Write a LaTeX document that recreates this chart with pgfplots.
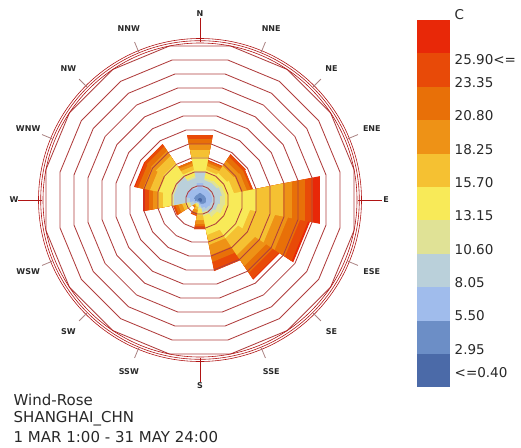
\documentclass[border=0pt]{standalone}
\usepackage{pgfplots}
\pgfplotsset{compat=1.18}
\usepgfplotslibrary{polar}
\usepackage{pgfplotstable}
\usepackage{fontspec}
\setmainfont{DejaVu Sans}

\definecolor{c1}{RGB}{75,106,168}
\definecolor{c2}{RGB}{108,142,198}
\definecolor{c3}{RGB}{160,188,236}
\definecolor{c4}{RGB}{186,208,218}
\definecolor{c5}{RGB}{224,226,150}
\definecolor{c6}{RGB}{248,234,88}
\definecolor{c7}{RGB}{245,193,50}
\definecolor{c8}{RGB}{238,146,22}
\definecolor{c9}{RGB}{232,112,8}
\definecolor{c10}{RGB}{232,74,8}
\definecolor{c11}{RGB}{232,40,8}
\definecolor{ringc}{RGB}{176,62,62}
\definecolor{circc}{RGB}{176,20,20}
\definecolor{minc}{RGB}{170,130,130}
\definecolor{txt}{RGB}{40,40,40}

% cumulative radii of the stacked temperature bins, per direction (two corners each)
\pgfplotstableread{
a        r1 r2 r3 r4 r5 r6 r7 r8 r9 r10 r11
101.25   2  7  17 28 29 43 50 56 61 65  65
78.75    2  7  17 28 29 43 50 56 61 65  65
78.75    2  6  12 20 22 30 34 37 39 40  40
56.25    2  6  12 20 22 30 34 37 39 40  40
56.25    2  6  12 20 23 32 40 46 51 54  54
33.75    2  6  12 20 23 32 40 46 51 54  54
33.75    2  6  12 22 25 34 41 47 51 53  53
11.25    2  6  12 22 25 34 41 47 51 53  53
11.25    2  6  12 20 25 56 83 92 105 113 120
-11.25   2  6  12 20 25 56 83 92 105 113 120
-11.25   2  6  11 18 24 50 75 88 100 108 110
-33.75   2  6  11 18 24 50 75 88 100 108 110
-33.75   2  5  10 16 20 45 65 78 86 93  94
-56.25   2  5  10 16 20 45 65 78 86 93  94
-56.25   2  4  8  12 16 35 45 55 62 71  71
-78.75   2  4  8  12 16 35 45 55 62 71  71
-78.75   1  3  5  7  9  15 20 24 26 29  29
-101.25  1  3  5  7  9  15 20 24 26 29  29
-101.25  1  2  3  4  5  7  10 13 15 16  16
-123.75  1  2  3  4  5  7  10 13 15 16  16
-123.75  1  2  3  4  5  6  7  8  9  9   9
-146.25  1  2  3  4  5  6  7  8  9  9   9
-146.25  1  3  6  10 12 15 18 22 25 27  27
-168.75  1  3  6  10 12 15 18 22 25 27  27
-168.75  2  5  10 26 28 37 42 47 51 55  57
-191.25  2  5  10 26 28 37 42 47 51 55  57
-191.25  2  6  14 26 28 41 50 57 62 65  66
-213.75  2  6  14 26 28 41 50 57 62 65  66
-213.75  2  6  14 27 29 43 52 58 63 66  66
-236.25  2  6  14 27 29 43 52 58 63 66  66
-236.25  2  6  12 22 24 30 34 37 39 39  39
-258.75  2  6  12 22 24 30 34 37 39 39  39
}\rose

\pgfplotstableread{
a       g1 g2 g3 g4 g5 g6 g7 g8 g9 g10 g11
11.25   14 28 42 56 70 84 98 112 126 140 154
33.75   14 28 42 56 70 84 98 112 126 140 154
56.25   14 28 42 56 70 84 98 112 126 140 154
78.75   14 28 42 56 70 84 98 112 126 140 154
101.25  14 28 42 56 70 84 98 112 126 140 154
123.75  14 28 42 56 70 84 98 112 126 140 154
146.25  14 28 42 56 70 84 98 112 126 140 154
168.75  14 28 42 56 70 84 98 112 126 140 154
191.25  14 28 42 56 70 84 98 112 126 140 154
213.75  14 28 42 56 70 84 98 112 126 140 154
236.25  14 28 42 56 70 84 98 112 126 140 154
258.75  14 28 42 56 70 84 98 112 126 140 154
281.25  14 28 42 56 70 84 98 112 126 140 154
303.75  14 28 42 56 70 84 98 112 126 140 154
326.25  14 28 42 56 70 84 98 112 126 140 154
348.75  14 28 42 56 70 84 98 112 126 140 154
371.25  14 28 42 56 70 84 98 112 126 140 154
}\ringtab

\begin{document}
\begin{tikzpicture}
\path[use as bounding box] (0bp,0bp) rectangle (521bp,-448bp);
\coordinate (C) at (200bp,-200bp);
\begin{polaraxis}[
  at={(C)}, anchor=center,
  scale only axis, width=387.44bp, height=387.44bp,
  xmin=0, xmax=360, ymin=0, ymax=190,
  hide axis, clip=false,
]
\pgfplotsinvokeforeach{11,10,9,8,7,6,5,4,3,2,1}{
  \addplot[fill=c#1, draw=none, no markers] table[x=a, y=r#1] {\rose} -- cycle;
}
\pgfplotsinvokeforeach{1,2,3,4,5,6,7,8,9,10,11}{
  \addplot[draw=ringc, line width=0.85bp, no markers] table[x=a, y=g#1] {\ringtab};
}
\end{polaraxis}
% outer compass circles
\foreach \r in {157,159.3,161.5}
  \draw[circc, line width=0.6bp] (C) circle (\r bp);
% direction ticks and labels
\foreach \c in {22.5,45,67.5,112.5,135,157.5,202.5,225,247.5,292.5,315,337.5}
  \draw[minc, line width=0.8bp] (C) ++({90-\c}:160bp) -- ++({90-\c}:11bp);
\foreach \c in {0,90,180,270}
  \draw[circc, line width=1bp] (C) ++({90-\c}:158bp) -- ++({90-\c}:24bp);
\foreach \c/\l in {0/N,22.5/NNE,45/NE,67.5/ENE,90/E,112.5/ESE,135/SE,157.5/SSE,180/S,202.5/SSW,225/SW,247.5/WSW,270/W,292.5/WNW,315/NW,337.5/NNW}
  \path (C) ++({90-\c}:186bp) node[font=\bfseries\fontsize{8bp}{9bp}\selectfont, text=txt, inner sep=0pt] {\l};
% legend
\foreach \k in {1,...,11}{
  \pgfmathsetmacro{\top}{20+(11-\k)*33.39}
  \fill[c\k] (416.7bp,-\top bp) rectangle (450bp,{-(\top+33.39)*1bp});
}
\begin{scope}[every node/.style={anchor=west, inner sep=0pt, text=txt, font=\fontsize{13.5bp}{16bp}\selectfont}]
\node at (454.5bp,-15bp) {C};
\node at (454.5bp,-59.3bp) {25.90<=};
\node at (454.5bp,-82.7bp) {23.35};
\node at (454.5bp,-116bp) {20.80};
\node at (454.5bp,-149.3bp) {18.25};
\node at (454.5bp,-182.7bp) {15.70};
\node at (454.5bp,-216bp) {13.15};
\node at (454.5bp,-249.3bp) {10.60};
\node at (454.5bp,-283bp) {8.05};
\node at (454.5bp,-316bp) {5.50};
\node at (454.5bp,-349.3bp) {2.95};
\node at (454.5bp,-372.7bp) {<=0.40};
\end{scope}
\begin{scope}[every node/.style={anchor=west, inner sep=0pt, text=txt, font=\fontsize{15bp}{18bp}\selectfont}]
\node at (13.5bp,-400bp) {Wind-Rose};
\node at (13.5bp,-419bp) {SHANGHAI\_CHN};
\node at (13.5bp,-437bp) {1 MAR 1:00 - 31 MAY 24:00};
\end{scope}
\end{tikzpicture}
\end{document}
